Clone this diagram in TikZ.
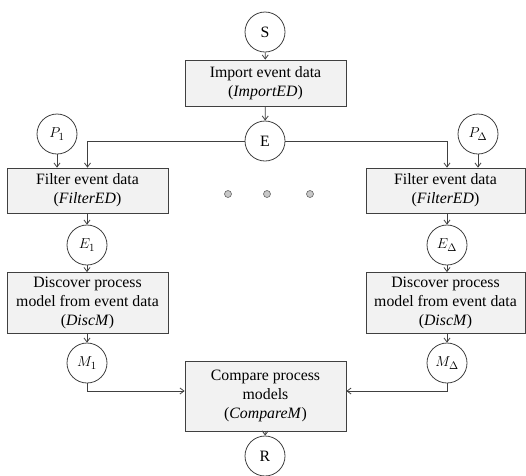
\documentclass[tikz,border=0pt]{standalone}
\usepackage{fontspec}
\setmainfont{Liberation Serif}
\usetikzlibrary{arrows.meta,calc}
\definecolor{linec}{HTML}{404040}
\definecolor{boxfill}{HTML}{F2F2F2}
\definecolor{dotfill}{HTML}{C8C8C8}
\tikzset{
  state/.style={circle,draw=linec,line width=0.8pt,fill=white,minimum size=40pt,inner sep=0pt,
    font=\fontsize{15.8}{19}\selectfont},
  proc/.style={rectangle,draw=linec,line width=0.8pt,fill=boxfill,inner sep=0pt,align=center,
    minimum width=161pt,font=\fontsize{15.8}{19}\selectfont},
  dotn/.style={circle,draw=linec!80,line width=0.6pt,fill=dotfill,minimum size=7pt,inner sep=0pt},
  conn/.style={draw=linec,line width=0.8pt,-{Straight Barb[length=4pt,width=6pt]}},
  plain/.style={draw=linec,line width=0.8pt}
}
\begin{document}
\begin{tikzpicture}[x=1pt,y=-1pt]
\useasboundingbox (0,0) rectangle (526,475);
% nodes
\node[state] (S) at (265,32) {S};
\node[proc,minimum height=46pt] (imp) at (265.5,83) {Import event data\\(\textit{ImportED})};
\node[state] (E) at (265,141) {E};
\node[state] (P1) at (57,134) {$P_1$};
\node[state] (PD) at (478,134) {$P_\Delta$};
\node[proc,minimum height=45pt] (fL) at (87.5,190.5) {Filter event data\\(\textit{FilterED})};
\node[proc,minimum height=45pt,minimum width=159pt] (fR) at (445.5,190.5) {Filter event data\\(\textit{FilterED})};
\node[dotn] (d1) at (228,194) {};
\node[dotn] (d2) at (267,194) {};
\node[dotn] (d3) at (310,194) {};
\node[state] (E1) at (87,245) {$E_1$};
\node[state] (ED) at (447,245) {$E_\Delta$};
\node[proc,minimum height=61pt] (dL) at (87.5,303) {Discover process\\model from event data\\(\textit{DiscM})};
\node[proc,minimum height=61pt,minimum width=159pt] (dR) at (445.5,303) {Discover process\\model from event data\\(\textit{DiscM})};
\node[state] (M1) at (87,363) {$M_1$};
\node[state] (MD) at (447,363) {$M_\Delta$};
\node[proc,minimum height=70pt] (cmp) at (265.5,396) {Compare process\\models\\(\textit{CompareM})};
\node[state] (R) at (265,456) {R};
% connectors
\draw[conn] (S) -- (imp);
\draw[conn] (imp) -- (E);
\draw[conn] (E.west) -| (fL.north);
\draw[conn] (E.east) -| ($(fR.north)+(1.5,0)$);
\draw[conn] (P1) -- (P1 |- fL.north);
\draw[conn] (PD) -- (PD |- fR.north);
\draw[conn] (fL.south -| E1) -- (E1);
\draw[conn] (fR.south -| ED) -- (ED);
\draw[conn] (E1) -- (dL.north -| E1);
\draw[conn] (ED) -- (dR.north -| ED);
\draw[conn] (dL.south -| M1) -- (M1);
\draw[conn] (dR.south -| MD) -- (MD);
\draw[conn] (M1.south) |- ([yshift=5pt]cmp.west);
\draw[conn] (MD.south) |- ([yshift=5pt]cmp.east);
\draw[conn] (cmp) -- (R);
\end{tikzpicture}
\end{document}
